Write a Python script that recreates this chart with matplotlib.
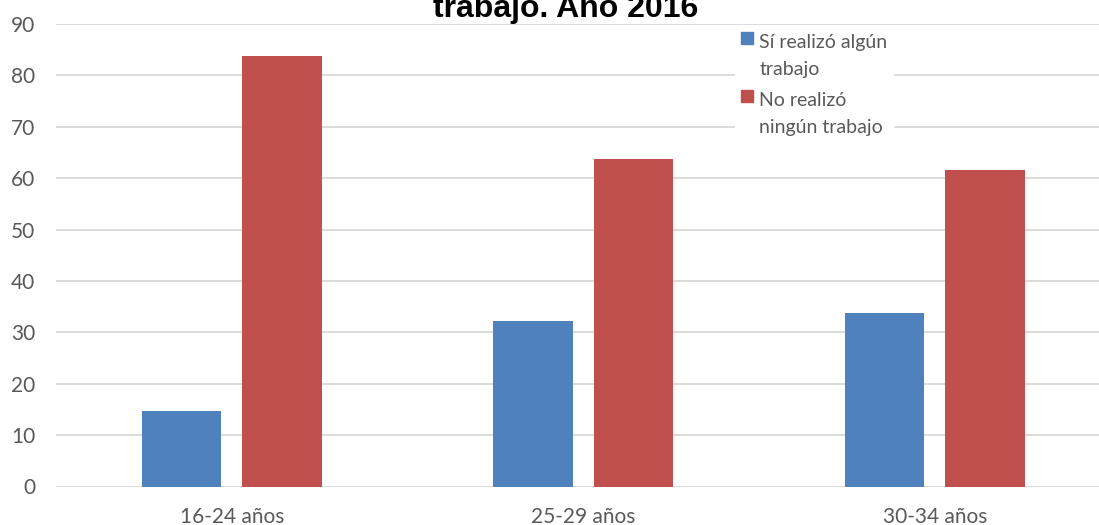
import matplotlib
matplotlib.use("Agg")
import matplotlib.pyplot as plt
import numpy as np
from matplotlib.patches import Patch

# datos
categorias = ["16-24 años", "25-29 años", "30-34 años"]
si_trabajo = [14.6, 32.2, 33.8]
no_trabajo = [83.8, 63.7, 61.6]
serie_labels = ["Sí realizó algún\ntrabajo", "No realizó\nningún trabajo"]
titulo = "trabajo. Año 2016"

AZUL = "#4F81BD"
ROJO = "#C0504D"
GRIS_TXT = "#595959"
GRIS_GRID = "#D9D9D9"

plt.rcParams['font.family'] = ['Lato', 'DejaVu Sans']

fig = plt.figure(figsize=(10.99, 5.25), dpi=100)
# el gráfico original está recortado por la derecha
ax = fig.add_axes([56 / 1099, 38.5 / 525, 1054.5 / 1099, 462.5 / 525])

x = np.arange(len(categorias))
ancho = 0.225
ax.bar(x - 0.143, si_trabajo, ancho, color=AZUL, zorder=3)
ax.bar(x + 0.143, no_trabajo, ancho, color=ROJO, zorder=3)

ax.set_xlim(-0.5, len(categorias) - 0.5)
ax.set_ylim(0, 90)
ax.set_yticks(np.arange(0, 91, 10))
ax.set_xticks(x)
ax.set_xticklabels(categorias)
ax.yaxis.grid(True, color=GRIS_GRID, linewidth=1.3, zorder=0)
ax.set_axisbelow(True)
for s in ax.spines.values():
    s.set_visible(False)
ax.tick_params(axis='both', length=0, labelsize=15, labelcolor=GRIS_TXT)
ax.tick_params(axis='y', pad=15)
ax.tick_params(axis='x', pad=15)

handles = [Patch(color=AZUL), Patch(color=ROJO)]
leg = fig.legend(handles, serie_labels, loc='upper left',
                 bbox_to_anchor=(735 / 1099, 1 - 28 / 525),
                 frameon=True, fontsize=14, labelcolor=GRIS_TXT,
                 handlelength=0.6, handleheight=0.6, handletextpad=0.35,
                 labelspacing=0.7, borderpad=0.3, borderaxespad=0)
leg.get_frame().set_facecolor("white")
leg.get_frame().set_edgecolor("white")
leg.get_frame().set_alpha(1)
for t in leg.get_texts():
    t.set_linespacing(1.75)
for h in leg.legend_handles:
    h.set_y(h.get_y() + 13)

fig.text(566 / 1099, 1 - 17 / 525, titulo, ha='center', va='baseline',
         fontsize=23, fontweight='bold', family=['Liberation Sans', 'DejaVu Sans'])

fig.savefig("out.png", dpi=100)
